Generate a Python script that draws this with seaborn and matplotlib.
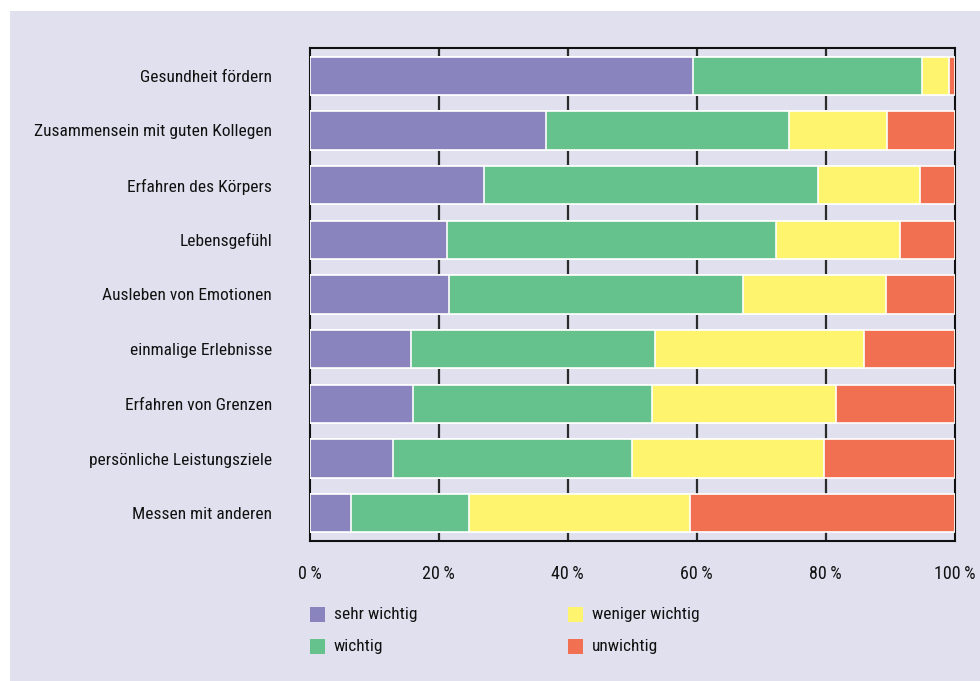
import matplotlib
matplotlib.use("Agg")
import matplotlib.pyplot as plt
from matplotlib.patches import Rectangle
import numpy as np
import pandas as pd
import seaborn as sns

# Survey: motives for doing sport, share of answers per category (%)
motives = [
    "Gesundheit fördern",
    "Zusammensein mit guten Kollegen",
    "Erfahren des Körpers",
    "Lebensgefühl",
    "Ausleben von Emotionen",
    "einmalige Erlebnisse",
    "Erfahren von Grenzen",
    "persönliche Leistungsziele",
    "Messen mit anderen",
]
sehr_wichtig = [59.5, 36.7, 27.0, 21.3, 21.7, 15.7, 16.0, 12.9, 6.4]
wichtig = [35.4, 37.7, 51.8, 51.0, 45.5, 37.8, 37.1, 37.1, 18.3]
weniger_wichtig = [4.2, 15.1, 15.8, 19.2, 22.2, 32.4, 28.5, 29.7, 34.3]
unwichtig = [0.9, 10.5, 5.4, 8.5, 10.6, 14.1, 18.4, 20.3, 41.0]

levels = ["sehr wichtig", "wichtig", "weniger wichtig", "unwichtig"]
colors = ["#8984bd", "#65c28d", "#fff46e", "#f27052"]
xticks = [0, 20, 40, 60, 80, 100]
xtick_labels = ["0\u2009%", "20\u2009%", "40\u2009%", "60\u2009%", "80\u2009%", "100\u2009%"]

BG = "#e0e0ef"
INK = "#111111"
FS = 12.5

sns.set_theme(style="white")
plt.rcParams["font.family"] = ["Roboto Condensed", "Liberation Sans Narrow",
                               "Roboto", "DejaVu Sans"]
plt.rcParams["text.color"] = INK

df = pd.DataFrame({
    "motive": motives,
    levels[0]: sehr_wichtig,
    levels[1]: wichtig,
    levels[2]: weniger_wichtig,
    levels[3]: unwichtig,
})
cum = df[levels].cumsum(axis=1)

W, H = 980, 681
fig = plt.figure(figsize=(W / 100, H / 100), dpi=100)
fig.patch.set_facecolor("white")
fig.patches.append(Rectangle((10 / W, 0), (W - 10) / W, (H - 11) / H,
                             transform=fig.transFigure, facecolor=BG,
                             edgecolor="none", zorder=-5))

ax = fig.add_axes([309.5 / W, (H - 540.7) / H, 645 / W, 492.4 / H])
ax.set_facecolor(BG)

# stacked bars: draw cumulative totals from the outermost level inward
for level, color in zip(reversed(levels), reversed(colors)):
    sns.barplot(x=cum[level], y=df["motive"], orient="h", color=color,
                width=0.7, edgecolor="white", linewidth=1.2,
                saturation=1, ax=ax, zorder=3)

ax.set_xlim(0, 100)
ax.set_ylim(len(motives) - 0.5, -0.5)
ax.set_xlabel("")
ax.set_ylabel("")

# dark vertical guides behind the bars
for v in xticks[1:-1]:
    ax.axvline(v, color="#2b2b2b", linewidth=1.6, zorder=1)

ax.set_xticks(xticks)
ax.set_xticklabels(xtick_labels)
ax.tick_params(axis="x", direction="out", length=7, width=1.3,
               color=INK, pad=10.5, labelsize=FS + 0.5, labelcolor=INK)

ax.set_yticks(range(len(motives)))
ax.set_yticklabels(motives)
ax.set_yticks(np.arange(-0.5, len(motives), 1.0), minor=True)
ax.tick_params(axis="y", which="major", length=0, pad=27,
               labelsize=FS, labelcolor=INK)
ax.tick_params(axis="y", which="minor", direction="out", length=11.5,
               width=1.3, color=INK)

for side in ["left", "right", "top", "bottom"]:
    ax.spines[side].set_visible(True)
    ax.spines[side].set_color(INK)
    ax.spines[side].set_linewidth(1.5)

# legend in two columns below the plot
legend_cols_x = [310, 568]
legend_rows_y = [614.5, 646.5]
for i, (level, color) in enumerate(zip(levels, colors)):
    col, row = divmod(i, 2)
    x0 = legend_cols_x[col]
    yc = legend_rows_y[row]
    fig.patches.append(Rectangle((x0 / W, (H - yc - 7.5) / H), 15 / W, 15 / H,
                                 transform=fig.transFigure, facecolor=color,
                                 edgecolor="none", zorder=2))
    fig.text((x0 + 24) / W, (H - yc) / H, level, ha="left", va="center",
             fontsize=FS, color=INK)

fig.savefig("out.png", dpi=100, facecolor=fig.get_facecolor())
